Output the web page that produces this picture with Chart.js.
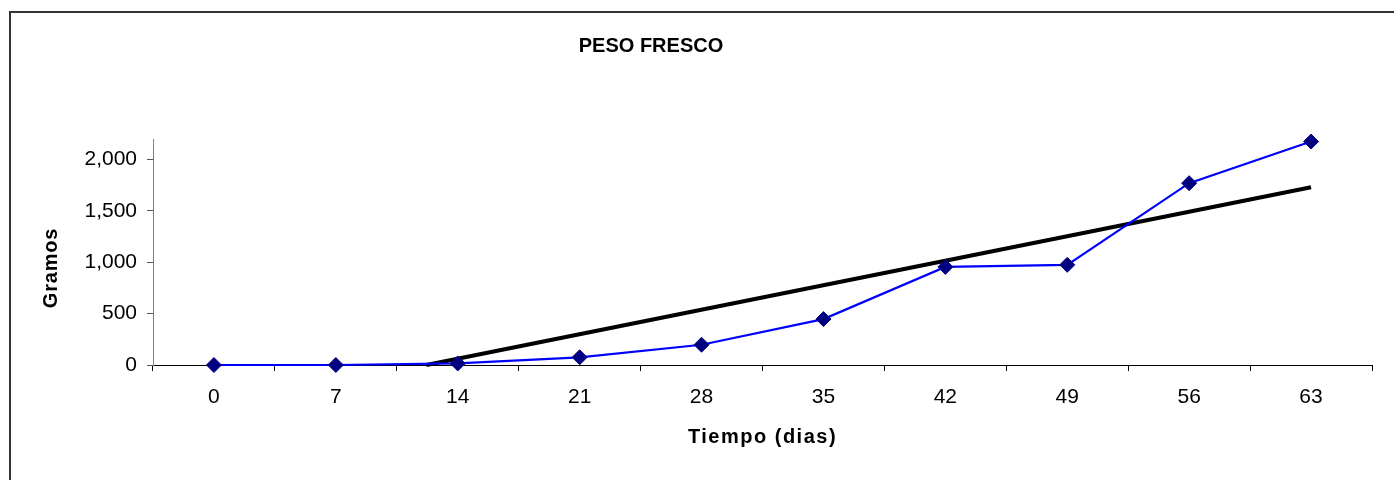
<!DOCTYPE html>
<html><head><meta charset="utf-8">
<script src="https://cdn.jsdelivr.net/npm/chart.js@4/dist/chart.umd.min.js"></script>
<style>html,body{margin:0;padding:0;background:#fff;}#wrap{position:relative;width:1394px;height:480px;}</style>
</head><body><div id="wrap"><canvas id="c" width="1394" height="480"></canvas></div>
<script>
const days = [0, 7, 14, 21, 28, 35, 42, 49, 56, 63];
const pesoFresco = [0, 0, 15, 75, 197, 447, 955, 975, 1770, 2175];
const trendDays = [12.2, 63];
const trendValues = [0, 1730];
const yTicks = [0, 500, 1000, 1500, 2000];
const chartTitle = 'PESO FRESCO';
const xTitle = 'Tiempo (dias)';
const yTitle = 'Gramos';

const FONT = "'Liberation Sans', Arial, sans-serif";

const borderPlugin = {
  id: 'outerBorder',
  beforeDraw(chart) {
    const ctx = chart.ctx;
    ctx.save();
    ctx.strokeStyle = '#333';
    ctx.lineWidth = 2;
    ctx.strokeRect(10, 12, 1500, 600);
    ctx.restore();
  }
};

const titlePlugin = {
  id: 'offsetTitle',
  afterDraw(chart) {
    const ctx = chart.ctx;
    ctx.save();
    ctx.font = 'bold 20px ' + FONT;
    ctx.fillStyle = '#000';
    ctx.textAlign = 'center';
    ctx.textBaseline = 'alphabetic';
    ctx.fillText(chartTitle, 651, 52);
    ctx.restore();
  }
};

const spacingPlugin = {
  id: 'axisTitleSpacing',
  beforeDraw(chart) {
    [['x', '1.5px', 0], ['y', '0.8px', 16]].forEach(([id, sp, dy]) => {
      const s = chart.scales[id];
      if (s && !s._spaced) {
        const orig = s.drawTitle;
        s.drawTitle = function () {
          const ctx = this.ctx;
          ctx.save();
          ctx.letterSpacing = sp;
          ctx.translate(0, dy);
          orig.apply(this, arguments);
          ctx.restore();
          ctx.letterSpacing = '0px';
        };
        s._spaced = true;
      }
    });
  }
};

new Chart(document.getElementById('c'), {
  type: 'line',
  data: {
    datasets: [
      {
        label: 'Peso fresco',
        data: days.map((d, i) => ({ x: d, y: pesoFresco[i] })),
        borderColor: '#0000FF',
        borderWidth: 2.2,
        pointStyle: 'rectRot',
        pointRadius: 7.5,
        pointBackgroundColor: '#000080',
        pointBorderColor: '#000080',
        pointBorderWidth: 1,
        tension: 0,
        clip: false
      },
      {
        label: 'Lineal',
        data: trendDays.map((d, i) => ({ x: d, y: trendValues[i] })),
        borderColor: '#000000',
        borderWidth: 4,
        pointRadius: 0,
        tension: 0,
        clip: false
      }
    ]
  },
  options: {
    responsive: false,
    devicePixelRatio: 1,
    animation: false,
    layout: { padding: { left: 20, right: 22, top: 139, bottom: 10 } },
    plugins: { legend: { display: false }, tooltip: { enabled: false }, title: { display: false } },
    scales: {
      x: {
        type: 'linear',
        min: -3.5,
        max: 66.5,
        afterBuildTicks: (s) => { s.ticks = days.map(v => ({ value: v })); },
        afterFit: (s) => { s.height = 105; },
        ticks: { autoSkip: false, maxRotation: 0, padding: 14, color: '#000', font: { family: FONT, size: 21 } },
        grid: { display: true, drawOnChartArea: false, drawTicks: true, tickLength: 6, offset: true, color: '#000' },
        border: { display: true, color: '#000', width: 1 },
        title: { display: true, text: xTitle, color: '#000', font: { family: FONT, size: 20, weight: 'bold' }, padding: { top: 4, bottom: 21 } }
      },
      y: {
        type: 'linear',
        min: 0,
        max: 2200,
        afterBuildTicks: (s) => { s.ticks = yTicks.map(v => ({ value: v })); },
        afterFit: (s) => { s.width = 133; },
        ticks: { padding: 10, color: '#000', font: { family: FONT, size: 21 }, callback: (v) => Number(v).toLocaleString('en-US') },
        grid: { display: true, drawOnChartArea: false, drawTicks: true, tickLength: 6, color: '#555' },
        border: { display: true, color: '#808080', width: 1 },
        title: { display: true, text: yTitle, color: '#000', font: { family: FONT, size: 20, weight: 'bold' }, padding: { top: 19, bottom: 0 } }
      }
    }
  },
  plugins: [borderPlugin, spacingPlugin, titlePlugin]
});
</script>
</body></html>
